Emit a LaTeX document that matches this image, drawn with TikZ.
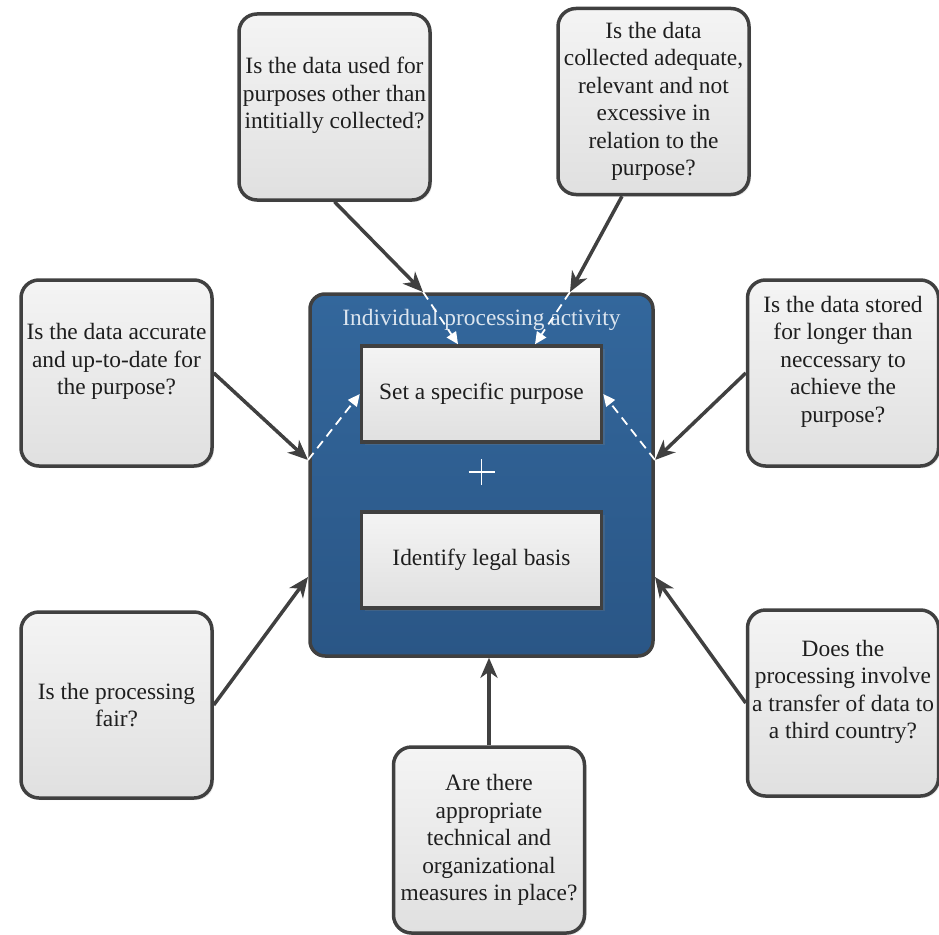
\documentclass[tikz,border=0pt]{standalone}
\usepackage{fontspec}
\setmainfont{Liberation Serif}
\usetikzlibrary{arrows.meta,shadows}
\definecolor{linegray}{HTML}{404040}
\definecolor{boxtop}{HTML}{F4F4F4}
\definecolor{boxbottom}{HTML}{E0E0E0}
\definecolor{proctop}{HTML}{33679C}
\definecolor{procbottom}{HTML}{2A5686}
\definecolor{titlecol}{HTML}{DCE5EF}
\definecolor{textcol}{HTML}{1E1E1E}
\tikzset{
    >=Stealth,
    flow/.style={draw=linegray,line width=3.5pt,
        -{Stealth[length=20pt,width=17pt,inset=6pt]}},
    link/.style={draw=white,line width=1.8pt,dash pattern=on 9pt off 6pt,
        -{Triangle[length=12pt,width=11pt]}}
}

\begin{document}
\begin{tikzpicture}[x=1pt,y=-1pt,
                    font=\fontsize{23.4}{27.5}\selectfont,
                    question/.style={draw=linegray,line width=3.5pt,rounded corners=18pt,
                        top color=boxtop,bottom color=boxbottom,text=textcol,align=center,
                        minimum width=191pt,minimum height=186pt,inner sep=2pt,
                        drop shadow={opacity=0.18,shadow xshift=2pt,shadow yshift=-2pt}},
                    activity/.style={draw=linegray,line width=3.5pt,rounded corners=15pt,
                        top color=proctop,bottom color=procbottom,
                        minimum width=343pt,minimum height=362pt},
                    task/.style={draw=linegray,line width=3.5pt,
                        top color=boxtop,bottom color=boxbottom,text=textcol,
                        minimum width=240pt,minimum height=96pt,
                        drop shadow={opacity=0.25,shadow xshift=3pt,shadow yshift=-3pt}}]
\useasboundingbox (0,0) rectangle (939,934);

% Activity
\node[activity] (proc) at (481.5,475) {};
\node[text=titlecol] (procTitle) at (481.5,320) {Individual processing activity};
\node[task] (purpose) at (481.5,394) {Set a specific purpose};
\node[task] (legal) at (481.5,560) {Identify legal basis};
\coordinate (plus) at (481.5,472);
\draw[white,line width=1.5pt] ([xshift=-13]plus) -- ([xshift=13]plus)
    ([yshift=-13]plus) -- ([yshift=13]plus);

% Questions
\node[question] (qUsed) at (334.5,107) {Is the data used for\\purposes other than\\intitially collected?\\\mbox{}};
\node[question] (qAdequate) at (653.5,101.5) {Is the data\\collected adequate,\\relevant and not\\excessive in\\relation to the\\purpose?};
\node[question] (qAccurate) at (116.5,373) {Is the data accurate\\and up-to-date for\\the purpose?\\\mbox{}};
\node[question] (qStored) at (843,373) {Is the data stored\\for longer than\\neccessary to\\achieve the\\purpose?\\\mbox{}};
\node[question] (qFair) at (116.5,705) {Is the processing\\fair?};
\node[question] (qTransfer) at (843,703) {Does the\\processing involve\\a transfer of data to\\a third country?\\\mbox{}};
\node[question] (qMeasures) at (489,840) {Are there\\appropriate\\technical and\\organizational\\measures in place?};

% Entry points on the activity
\coordinate (inUsed) at (423,292);
\coordinate (inAdequate) at (570,292);
\coordinate (inAccurate) at (308,460);
\coordinate (inStored) at (655,460);
\coordinate (inFair) at (308,577);
\coordinate (inTransfer) at (655,577);

% Questions into the activity
\path (qUsed.south) edge[flow] (inUsed);
\path ([xshift=-31.5]qAdequate.south) edge[flow] (inAdequate);
\path (qAccurate.east) edge[flow] (inAccurate);
\path (qStored.west) edge[flow] (inStored);
\path (qFair.east) edge[flow] (inFair);
\path (qTransfer.west) edge[flow] (inTransfer);
\path (qMeasures.north) edge[flow] (qMeasures.north |- proc.south);

% On to the purpose
\path (inUsed) edge[link] ([xshift=-23.5]purpose.north);
\path (inAdequate) edge[link] ([xshift=53.5]purpose.north);
\path (inAccurate) edge[link] (purpose.west);
\path (inStored) edge[link] (purpose.east);

\end{tikzpicture}
\end{document}
